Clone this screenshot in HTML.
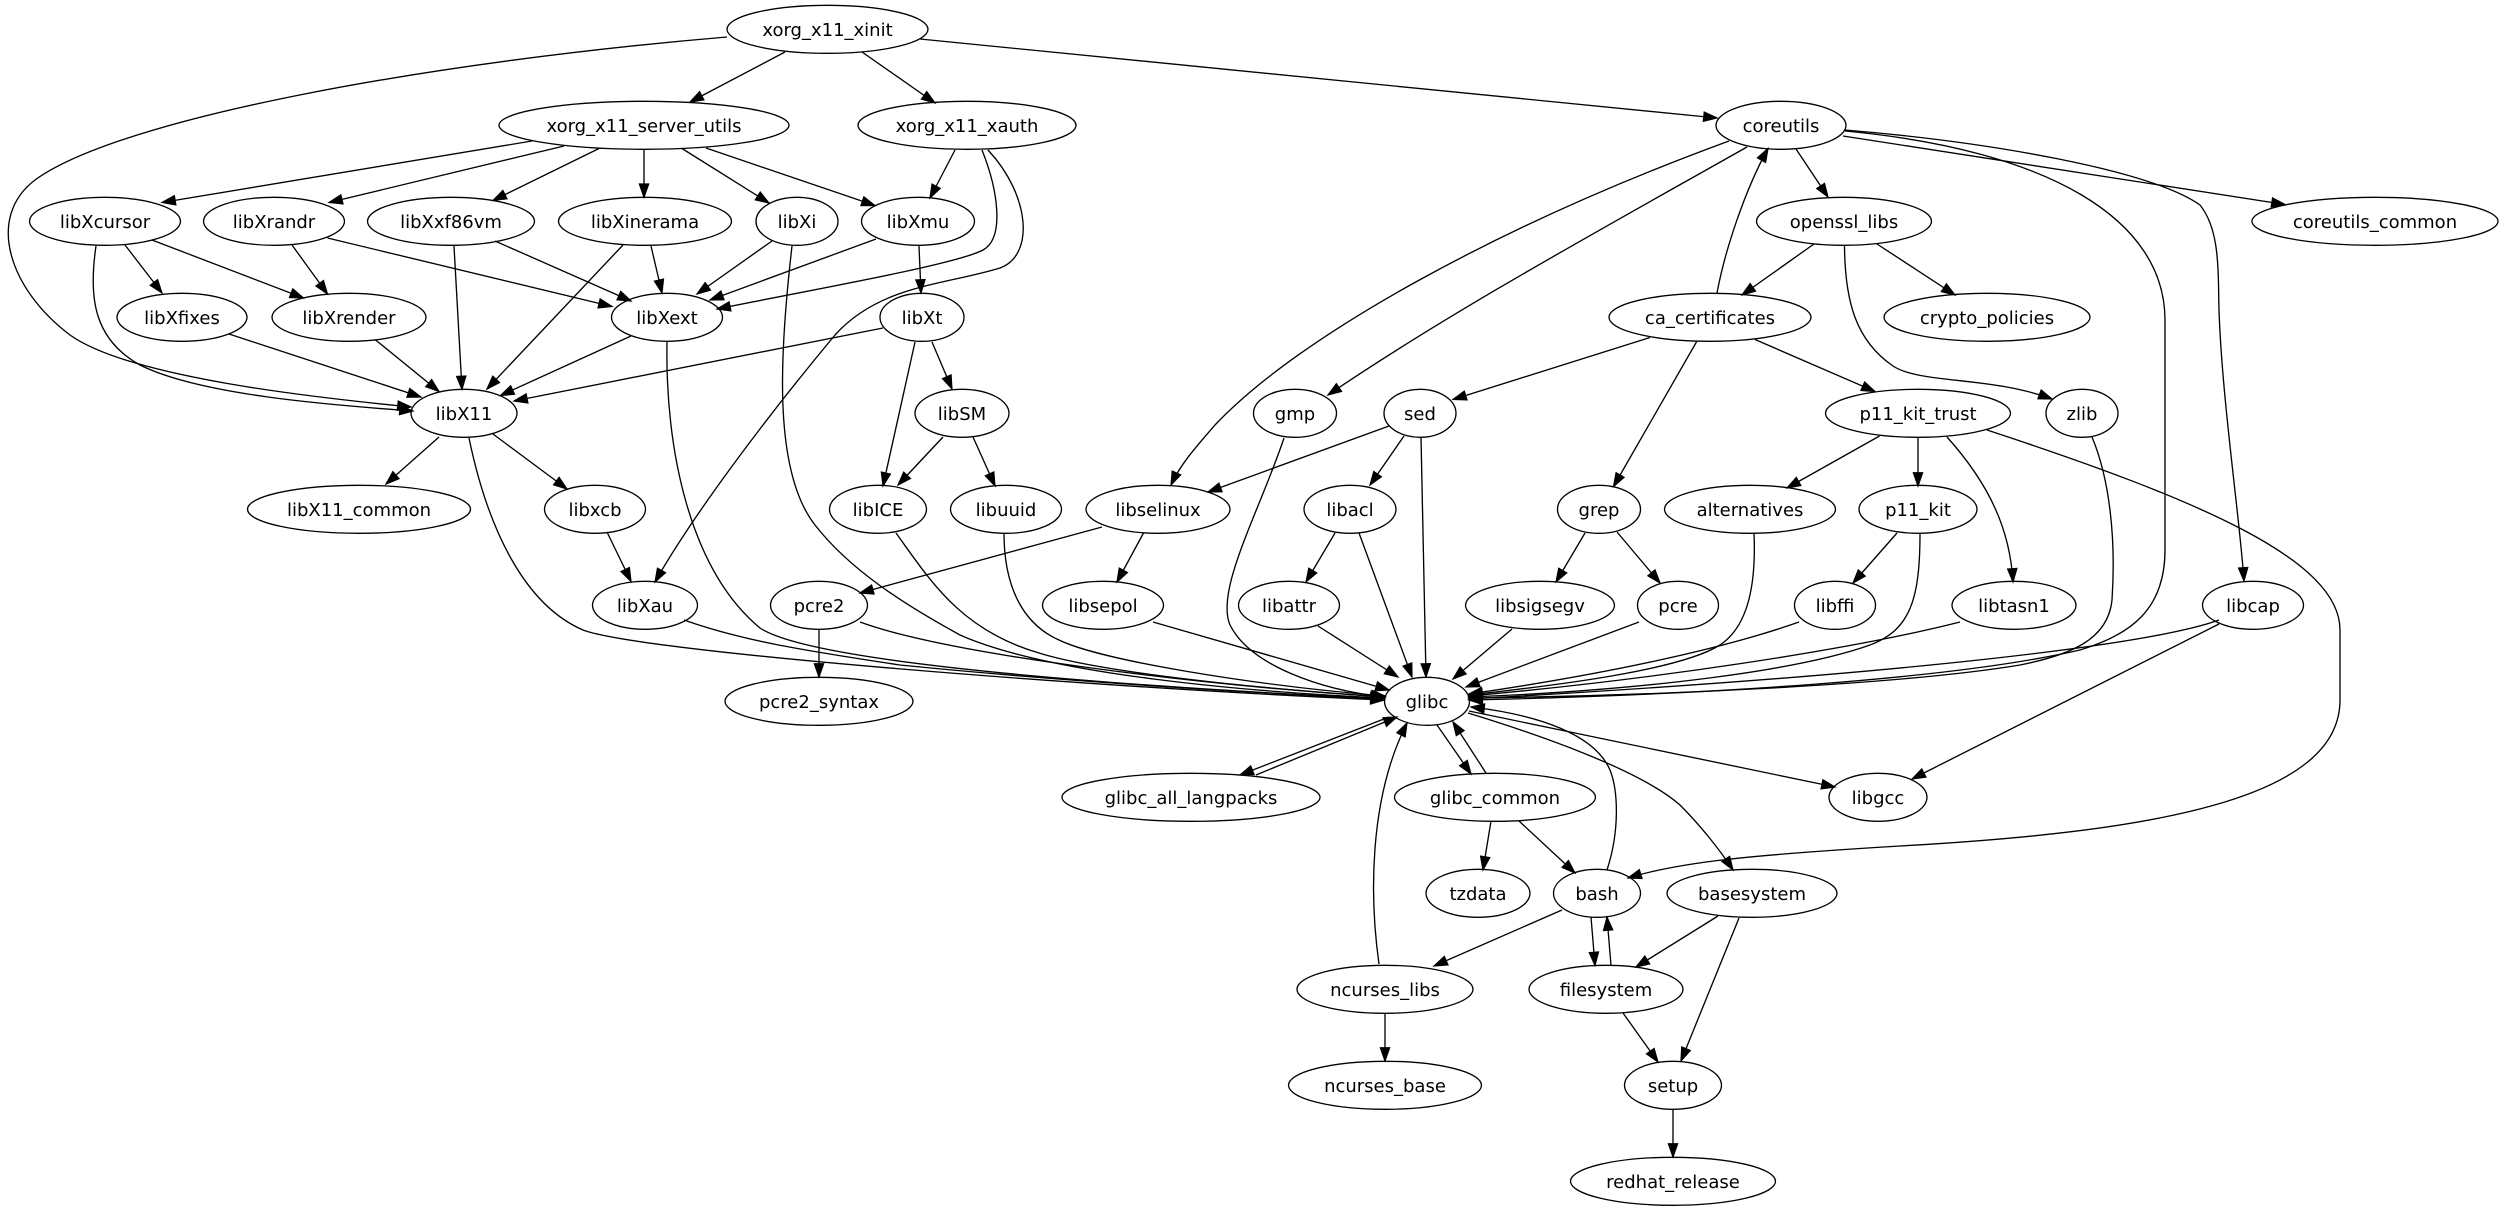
<!DOCTYPE html>
<html><head><meta charset="utf-8"><style>
html,body{margin:0;padding:0;background:#fff;}
svg{display:block;}
text{font-family:"DejaVu Sans","Liberation Sans",sans-serif;font-size:18px;fill:#000;text-anchor:middle;}
</style></head><body>
<svg width="2504" height="1211" viewBox="0 0 2504 1211" xmlns="http://www.w3.org/2000/svg">
<defs>
<marker id="a" viewBox="0 0 14 10" refX="13.3" refY="4.67" markerWidth="14" markerHeight="10" orient="auto" markerUnits="userSpaceOnUse" overflow="visible">
<path d="M0,0L13.3,4.67L0,9.33z" fill="#000" stroke="#000" stroke-width="1.2"/>
</marker>
</defs>
<rect width="2504" height="1211" fill="#fff"/>
<g fill="none" stroke="#000" stroke-width="1.33" marker-end="url(#a)">
<path d="M727,37 C430,62 120,118 35,180 C-15,218 10,290 70,335 C130,378 320,398 411,407"/>
<path d="M96,246 C88,300 95,340 140,365 C200,395 330,405 413,411"/>
<path d="M785,52 L690,102"/>
<path d="M862,52 L935,103"/>
<path d="M920,39 L1717,118"/>
<path d="M532,141 L162,202.5"/>
<path d="M564,146 L329,202.5"/>
<path d="M599,148.5 L493,200.5"/>
<path d="M644,149.5 L644,197.3"/>
<path d="M682,148.5 L769,203"/>
<path d="M706,148 L875,205.5"/>
<path d="M955,150 L930,198"/>
<path d="M982,150 C998,190 1005,238 983,250 C955,265 800,292 717,309"/>
<path d="M988,150 C1030,195 1035,255 1000,268 C945,285 880,285 835,335 C760,425 690,520 655,582"/>
<path d="M125,245 L162,293"/>
<path d="M152,240 L303.5,298"/>
<path d="M292,245 L327.5,294"/>
<path d="M327.5,238 L612,306.5"/>
<path d="M454,246 L462,389.5"/>
<path d="M495,241 L631,301"/>
<path d="M623,245 L487,389"/>
<path d="M651,246 L662,293"/>
<path d="M772,241 L697,294"/>
<path d="M876,239 L710,300"/>
<path d="M919,246 L921,293"/>
<path d="M229,334 L421,397"/>
<path d="M375,339.5 L439,391.5"/>
<path d="M631,336 L500.5,395.5"/>
<path d="M883,328 L514,401"/>
<path d="M932,342 L952,389"/>
<path d="M915,342 L883,486"/>
<path d="M943,437 L898,485"/>
<path d="M973,437 L995,486"/>
<path d="M439,437 L386,484"/>
<path d="M493,434 L567,489"/>
<path d="M607,532 L631,581.5"/>
<path d="M469,438 C488,530 525,605 583,630 C640,652 1100,688 1384,700"/>
<path d="M667,342 C665,450 690,570 760,628 C820,668 1200,690 1384,699"/>
<path d="M792,246 C780,350 772,470 815,525 C850,570 905,605 960,635 C1050,675 1250,692 1384,698"/>
<path d="M896,533 C930,580 960,630 1039,653 C1100,672 1250,688 1385,697"/>
<path d="M1004,533 C1004,590 1025,625 1059,640 C1100,660 1250,685 1385,696"/>
<path d="M684,620 C740,640 800,650 900,665 C1100,685 1300,695 1384,699"/>
<path d="M860,622 C950,655 1200,685 1384,697"/>
<path d="M1153,622 L1389,690"/>
<path d="M1318,626 L1398,677"/>
<path d="M1359,533 L1412,677"/>
<path d="M1421,437 L1426,677"/>
<path d="M1284,438 C1260,510 1215,590 1230,625 C1250,665 1320,690 1385,697"/>
<path d="M1512,629 L1453,679"/>
<path d="M1639,622 L1466,687"/>
<path d="M1754,533 C1756,580 1750,625 1720,645 C1680,670 1560,685 1469,695"/>
<path d="M1799,622 C1720,650 1600,675 1469,694"/>
<path d="M1920,533 C1920,600 1910,630 1870,645 C1800,670 1650,690 1469,697"/>
<path d="M1960,622 C1850,650 1650,680 1469,696"/>
<path d="M2092,437 C2110,480 2116,540 2112,600 C2108,640 2070,655 2020,665 C1900,685 1650,696 1469,698"/>
<path d="M2219,620 C2150,645 1900,675 1469,699"/>
<path d="M1845,131 C2050,150 2165,220 2165,320 L2165,550 C2165,610 2130,635 2080,650 C1950,680 1700,695 1469,700"/>
<path d="M1845,130 C1990,142 2150,170 2200,205 C2220,230 2218,270 2219,310 C2222,400 2240,520 2244,581"/>
<path d="M1843,136 L2285,204.5"/>
<path d="M1796,149 L1828,197"/>
<path d="M1717,293 C1725,250 1745,190 1768,148.5"/>
<path d="M1814,244 L1742,295"/>
<path d="M1877,244 L1955,295"/>
<path d="M1844.5,246 C1845,300 1855,340 1893,366 C1920,384 1990,376 2052,399"/>
<path d="M1755,339.5 L1875,391.5"/>
<path d="M1697,341 L1613.5,486.5"/>
<path d="M1650,337.5 L1453,399.5"/>
<path d="M1729,141 C1500,225 1300,335 1215,425 C1195,448 1180,465 1171,485"/>
<path d="M1747,147 C1600,230 1450,312 1328,395"/>
<path d="M1389,426 L1208,492"/>
<path d="M1404,436 L1370,485"/>
<path d="M1335,533 L1306,582"/>
<path d="M1102,527 L860,593"/>
<path d="M1143.5,533 L1117,582"/>
<path d="M819,629 L819,677"/>
<path d="M1585,533 L1556,582"/>
<path d="M1617,532 L1660,583"/>
<path d="M1879.5,436 L1787,488"/>
<path d="M1918,438 L1918,486"/>
<path d="M1947,437 C1990,485 2010,530 2013,582"/>
<path d="M1897,533 L1853,583"/>
<path d="M1987,430 C2200,500 2340,560 2340,630 L2340,700 C2340,800 2150,832 1900,846 C1750,855 1680,862 1628,878"/>
<path d="M2219,624 L1912,779"/>
<path d="M1469,711 L1835,787"/>
<path d="M1468,713 C1540,735 1640,770 1680,805 C1700,825 1720,850 1733,870"/>
<path d="M1607,870 C1620,830 1618,790 1610,770 C1595,735 1540,715 1471,707"/>
<path d="M1389,717 L1240,775"/>
<path d="M1256,775 L1397,717"/>
<path d="M1437,725 L1471,774"/>
<path d="M1486,773 L1453,722"/>
<path d="M1379,964 C1370,900 1368,800 1407,723"/>
<path d="M1491,821 L1483,870"/>
<path d="M1519,821 L1575,873"/>
<path d="M1562,910 L1434,966"/>
<path d="M1591,917 L1595,965.5"/>
<path d="M1611,965.5 L1607,917"/>
<path d="M1718,916 L1636,967"/>
<path d="M1739,918 L1681,1061"/>
<path d="M1623,1013 L1658,1062"/>
<path d="M1673,1109 L1673,1157"/>
<path d="M1385,1013 L1385,1061"/>
</g>
<g fill="none" stroke="#000" stroke-width="1.33">
<ellipse cx="827.5" cy="29.3" rx="100.5" ry="24"/>
<ellipse cx="644" cy="125.3" rx="145" ry="24"/>
<ellipse cx="967" cy="125.3" rx="109" ry="24"/>
<ellipse cx="1781" cy="125.3" rx="65" ry="24"/>
<ellipse cx="105" cy="221.3" rx="75.5" ry="24"/>
<ellipse cx="274" cy="221.3" rx="70.5" ry="24"/>
<ellipse cx="451" cy="221.3" rx="83.5" ry="24"/>
<ellipse cx="645" cy="221.3" rx="86.5" ry="24"/>
<ellipse cx="797" cy="221.3" rx="41" ry="24"/>
<ellipse cx="918" cy="221.3" rx="56.5" ry="24"/>
<ellipse cx="1844" cy="221.3" rx="87.5" ry="24"/>
<ellipse cx="2375" cy="221.3" rx="123" ry="24"/>
<ellipse cx="182" cy="317.3" rx="65" ry="24"/>
<ellipse cx="349" cy="317.3" rx="77" ry="24"/>
<ellipse cx="667" cy="317.3" rx="55.5" ry="24"/>
<ellipse cx="922" cy="317.3" rx="42" ry="24"/>
<ellipse cx="1710" cy="317.3" rx="101" ry="24"/>
<ellipse cx="1987" cy="317.3" rx="103" ry="24"/>
<ellipse cx="464" cy="413.3" rx="53" ry="24"/>
<ellipse cx="962" cy="413.3" rx="47" ry="24"/>
<ellipse cx="1295" cy="413.3" rx="41.5" ry="24"/>
<ellipse cx="1420" cy="413.3" rx="36" ry="24"/>
<ellipse cx="1918" cy="413.3" rx="92.5" ry="24"/>
<ellipse cx="2082" cy="413.3" rx="36" ry="24"/>
<ellipse cx="359" cy="509.3" rx="111.5" ry="24"/>
<ellipse cx="595" cy="509.3" rx="50.5" ry="24"/>
<ellipse cx="878" cy="509.3" rx="48.5" ry="24"/>
<ellipse cx="1006" cy="509.3" rx="55.5" ry="24"/>
<ellipse cx="1158" cy="509.3" rx="72" ry="24"/>
<ellipse cx="1350" cy="509.3" rx="46" ry="24"/>
<ellipse cx="1599" cy="509.3" rx="41.5" ry="24"/>
<ellipse cx="1750" cy="509.3" rx="85.5" ry="24"/>
<ellipse cx="1918" cy="509.3" rx="59" ry="24"/>
<ellipse cx="645" cy="605.3" rx="52.5" ry="24"/>
<ellipse cx="819" cy="605.3" rx="48.5" ry="24"/>
<ellipse cx="1103" cy="605.3" rx="60.5" ry="24"/>
<ellipse cx="1289" cy="605.3" rx="50.5" ry="24"/>
<ellipse cx="1540" cy="605.3" rx="74.5" ry="24"/>
<ellipse cx="1678" cy="605.3" rx="40.5" ry="24"/>
<ellipse cx="1835" cy="605.3" rx="40.5" ry="24"/>
<ellipse cx="2014" cy="605.3" rx="62" ry="24"/>
<ellipse cx="2253" cy="605.3" rx="50.5" ry="24"/>
<ellipse cx="819" cy="701.3" rx="94" ry="24"/>
<ellipse cx="1427" cy="701.3" rx="42.5" ry="24"/>
<ellipse cx="1191" cy="797.3" rx="129" ry="24"/>
<ellipse cx="1495" cy="797.3" rx="100.5" ry="24"/>
<ellipse cx="1878" cy="797.3" rx="49" ry="24"/>
<ellipse cx="1478" cy="893.3" rx="52" ry="24"/>
<ellipse cx="1597" cy="893.3" rx="43.5" ry="24"/>
<ellipse cx="1752" cy="893.3" rx="85" ry="24"/>
<ellipse cx="1385" cy="989.3" rx="88" ry="24"/>
<ellipse cx="1606" cy="989.3" rx="77" ry="24"/>
<ellipse cx="1385" cy="1085.3" rx="96.5" ry="24"/>
<ellipse cx="1673" cy="1085.3" rx="48.5" ry="24"/>
<ellipse cx="1673" cy="1181.3" rx="102.5" ry="24"/>
</g>
<g>
<text x="827.5" y="35.8">xorg_x11_xinit</text>
<text x="644" y="131.8">xorg_x11_server_utils</text>
<text x="967" y="131.8">xorg_x11_xauth</text>
<text x="1781" y="131.8">coreutils</text>
<text x="105" y="227.8">libXcursor</text>
<text x="274" y="227.8">libXrandr</text>
<text x="451" y="227.8">libXxf86vm</text>
<text x="645" y="227.8">libXinerama</text>
<text x="797" y="227.8">libXi</text>
<text x="918" y="227.8">libXmu</text>
<text x="1844" y="227.8">openssl_libs</text>
<text x="2375" y="227.8">coreutils_common</text>
<text x="182" y="323.8">libXfixes</text>
<text x="349" y="323.8">libXrender</text>
<text x="667" y="323.8">libXext</text>
<text x="922" y="323.8">libXt</text>
<text x="1710" y="323.8">ca_certificates</text>
<text x="1987" y="323.8">crypto_policies</text>
<text x="464" y="419.8">libX11</text>
<text x="962" y="419.8">libSM</text>
<text x="1295" y="419.8">gmp</text>
<text x="1420" y="419.8">sed</text>
<text x="1918" y="419.8">p11_kit_trust</text>
<text x="2082" y="419.8">zlib</text>
<text x="359" y="515.8">libX11_common</text>
<text x="595" y="515.8">libxcb</text>
<text x="878" y="515.8">libICE</text>
<text x="1006" y="515.8">libuuid</text>
<text x="1158" y="515.8">libselinux</text>
<text x="1350" y="515.8">libacl</text>
<text x="1599" y="515.8">grep</text>
<text x="1750" y="515.8">alternatives</text>
<text x="1918" y="515.8">p11_kit</text>
<text x="645" y="611.8">libXau</text>
<text x="819" y="611.8">pcre2</text>
<text x="1103" y="611.8">libsepol</text>
<text x="1289" y="611.8">libattr</text>
<text x="1540" y="611.8">libsigsegv</text>
<text x="1678" y="611.8">pcre</text>
<text x="1835" y="611.8">libffi</text>
<text x="2014" y="611.8">libtasn1</text>
<text x="2253" y="611.8">libcap</text>
<text x="819" y="707.8">pcre2_syntax</text>
<text x="1427" y="707.8">glibc</text>
<text x="1191" y="803.8">glibc_all_langpacks</text>
<text x="1495" y="803.8">glibc_common</text>
<text x="1878" y="803.8">libgcc</text>
<text x="1478" y="899.8">tzdata</text>
<text x="1597" y="899.8">bash</text>
<text x="1752" y="899.8">basesystem</text>
<text x="1385" y="995.8">ncurses_libs</text>
<text x="1606" y="995.8">filesystem</text>
<text x="1385" y="1091.8">ncurses_base</text>
<text x="1673" y="1091.8">setup</text>
<text x="1673" y="1187.8">redhat_release</text>
</g>
</svg>
</body></html>
